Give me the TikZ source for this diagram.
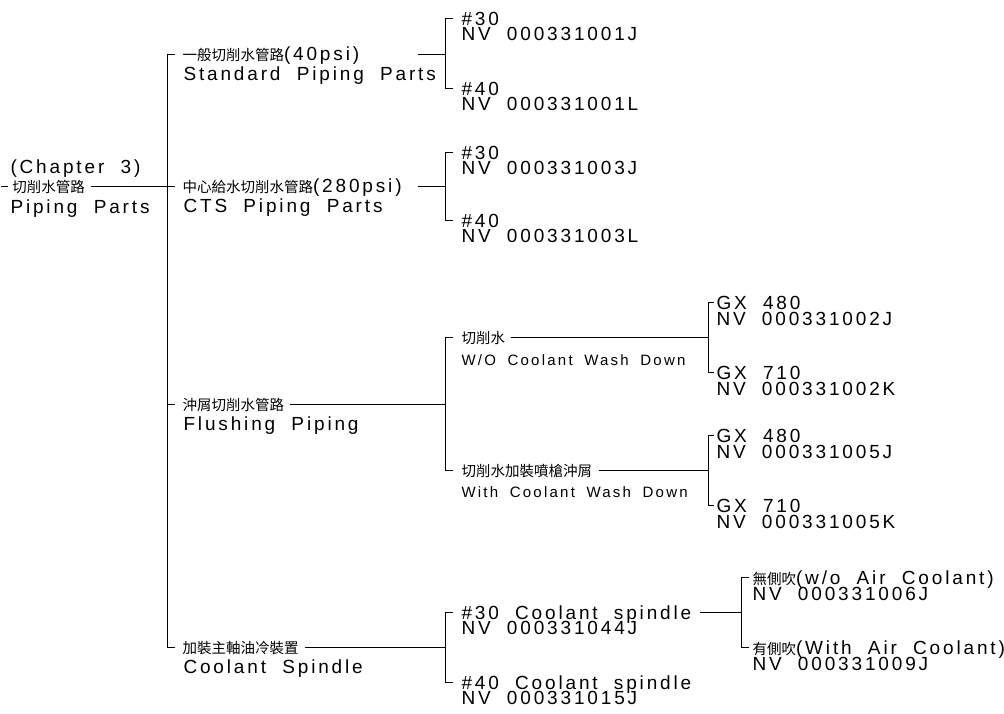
\documentclass[tikz,border=0pt]{standalone}
\usepackage{fontspec}
\setmainfont{Liberation Sans}[LetterSpace=15,WordSpace=2]
\newfontfamily\zhfont{Noto Sans CJK TC}
\newfontfamily\washfont{Liberation Sans}[LetterSpace=15,WordSpace=1.8]
\newcommand\enf{\fontsize{19}{19}\selectfont}
\newcommand\washf{\washfont\fontsize{15}{15}\selectfont}
\newcommand\zh[1]{{\zhfont\fontsize{14.5}{14.5}\selectfont #1}}
\begin{document}
\begin{tikzpicture}[x=1pt,y=-1pt,line width=1pt,
  lbl/.style={inner sep=0pt,anchor=base west,font=\enf},
  wash/.style={inner sep=0pt,anchor=base west,font=\washf},
  tick/.style={shorten >=7pt},
  conn/.style={shorten <=5pt}]
\fill[white] (0,0) rectangle (1004,713);
\useasboundingbox (0,0) rectangle (1004,713);
% root
\node[lbl] (chap) at (10,173) {(Chapter 3)};
\node[lbl] (root) at (12,192) {\zh{切削水管路}};
\node[lbl] (rootE) at (10,213) {Piping Parts};
\coordinate (rt) at (1,186);
% main vertical
\coordinate (m1) at (167,54);
\coordinate (m2) at (167,186);
\coordinate (m3) at (167,404);
\coordinate (m4) at (167,647);
\draw (rt) -- (rt -| root.west) [shorten >=4pt];
\draw[conn] (root.east |- rt) -- (m2);
\draw (m1) -- (m4);
% level 1
\node[lbl] (a) at (182,60) {\zh{一般切削水管路}(40psi)};
\node[lbl] (aE) at (183,80) {Standard Piping Parts};
\node[lbl] (b) at (182,192) {\zh{中心給水切削水管路}(280psi)};
\node[lbl] (bE) at (183,212) {CTS Piping Parts};
\node[lbl] (c) at (182,410) {\zh{沖屑切削水管路}};
\node[lbl] (cE) at (183,430) {Flushing Piping};
\node[lbl] (d) at (182,653) {\zh{加裝主軸油冷裝置}};
\node[lbl] (dE) at (183,673) {Coolant Spindle};
\draw[tick] (m1) -- (m1 -| a.west);
\draw[tick] (m2) -- (m2 -| b.west);
\draw[tick] (m3) -- (m3 -| c.west);
\draw[tick] (m4) -- (m4 -| d.west);
% level 2 brackets
\coordinate (p1t) at (445,18);  \coordinate (p1m) at (445,54);  \coordinate (p1b) at (445,88);
\coordinate (p2t) at (445,152); \coordinate (p2m) at (445,186); \coordinate (p2b) at (445,220);
\coordinate (p3t) at (445,337); \coordinate (p3m) at (445,404); \coordinate (p3b) at (445,470);
\coordinate (p4t) at (445,612); \coordinate (p4m) at (445,647); \coordinate (p4b) at (445,682);
\coordinate (as) at (418,54);
\coordinate (bs) at (418,186);
\draw (as) -- (p1m);
\draw (bs) -- (p2m);
\draw[conn] (c.east |- p3m) -- (p3m);
\draw[shorten <=6pt] (d.east |- p4m) -- (p4m);
\draw (p1t) -- (p1b);
\draw (p2t) -- (p2b);
\draw (p3t) -- (p3b);
\draw (p4t) -- (p4b);
% level 2 labels
\node[lbl] (a1) at (461,25) {\#30};
\node[lbl] (a1c) at (461,40.5) {NV 000331001J};
\node[lbl] (a2) at (461,95) {\#40};
\node[lbl] (a2c) at (461,110.5) {NV 000331001L};
\node[lbl] (b1) at (461,159) {\#30};
\node[lbl] (b1c) at (461,174.5) {NV 000331003J};
\node[lbl] (b2) at (461,227) {\#40};
\node[lbl] (b2c) at (461,242.5) {NV 000331003L};
\node[lbl] (c1) at (461,343) {\zh{切削水}};
\node[wash] (c1E) at (461,365) {W/O Coolant Wash Down};
\node[lbl] (c2) at (461,476) {\zh{切削水加裝噴槍沖屑}};
\node[wash] (c2E) at (461,497) {With Coolant Wash Down};
\node[lbl] (d1) at (461,619) {\#30 Coolant spindle};
\node[lbl] (d1c) at (461,634.5) {NV 000331044J};
\node[lbl] (d2) at (461,689) {\#40 Coolant spindle};
\node[lbl] (d2c) at (461,704.5) {NV 000331015J};
\draw[tick,shorten >=8pt] (p1t) -- (p1t -| a1.west);
\draw[tick,shorten >=8pt] (p1b) -- (p1b -| a2.west);
\draw[tick,shorten >=8pt] (p2t) -- (p2t -| b1.west);
\draw[tick,shorten >=8pt] (p2b) -- (p2b -| b2.west);
\draw[tick,shorten >=8pt] (p3t) -- (p3t -| c1.west);
\draw[tick,shorten >=8pt] (p3b) -- (p3b -| c2.west);
\draw[tick,shorten >=8pt] (p4t) -- (p4t -| d1.west);
\draw[tick,shorten >=8pt] (p4b) -- (p4b -| d2.west);
% level 3 brackets
\coordinate (q1t) at (708,302); \coordinate (q1m) at (708,337); \coordinate (q1b) at (708,372);
\coordinate (q2t) at (708,435); \coordinate (q2m) at (708,470); \coordinate (q2b) at (708,505);
\coordinate (q3t) at (741,577); \coordinate (q3m) at (741,612); \coordinate (q3b) at (741,647);
\draw[conn] (c1.east |- p3t) -- (q1m);
\draw[shorten <=6pt] (c2.east |- p3b) -- (q2m);
\draw[shorten <=8pt] (d1.east |- p4t) -- (q3m);
\draw (q1t) -- (q1b);
\draw (q2t) -- (q2b);
\draw (q3t) -- (q3b);
% level 3 labels
\node[lbl] (e1) at (716,309) {GX 480};
\node[lbl] (e1c) at (716,325) {NV 000331002J};
\node[lbl] (e2) at (716,379) {GX 710};
\node[lbl] (e2c) at (716,395) {NV 000331002K};
\node[lbl] (f1) at (716,442) {GX 480};
\node[lbl] (f1c) at (716,458) {NV 000331005J};
\node[lbl] (f2) at (716,512) {GX 710};
\node[lbl] (f2c) at (716,528) {NV 000331005K};
\node[lbl] (g1) at (752,584) {\zh{無側吹}(w/o Air Coolant)};
\node[lbl] (g1c) at (752,600) {NV 000331006J};
\node[lbl] (g2) at (752,654) {\zh{有側吹}(With Air Coolant)};
\node[lbl] (g2c) at (752,670) {NV 000331009J};
\draw[shorten >=2pt] (q1t) -- (q1t -| e1.west);
\draw[shorten >=2pt] (q1b) -- (q1b -| e2.west);
\draw[shorten >=2pt] (q2t) -- (q2t -| f1.west);
\draw[shorten >=2pt] (q2b) -- (q2b -| f2.west);
\draw[shorten >=3pt] (q3t) -- (q3t -| g1.west);
\draw[shorten >=3pt] (q3b) -- (q3b -| g2.west);
\end{tikzpicture}
\end{document}
